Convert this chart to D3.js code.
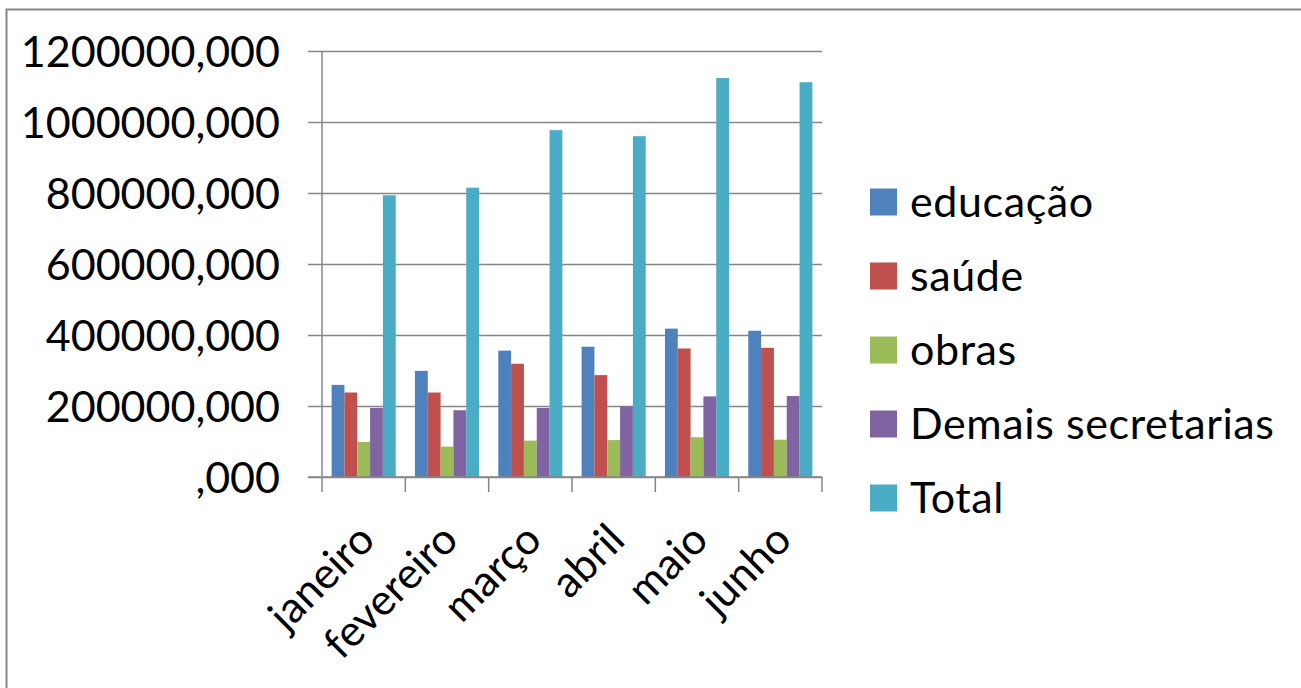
<!DOCTYPE html>
<html>
<head>
<meta charset="utf-8">
<script src="https://cdn.jsdelivr.net/npm/d3@7/dist/d3.min.js"></script>
<style>
  body { margin: 0; background: #fff; }
  svg text { font-family: Lato, "Open Sans", sans-serif; fill: #000; }
  .legend text { letter-spacing: 0.6px; }
</style>
</head>
<body>
<svg id="svg" width="1301" height="688"></svg>
<script>
const months = ["janeiro", "fevereiro", "março", "abril", "maio", "junho"]
const series = ["educação", "saúde", "obras", "Demais secretarias", "Total"]
const educacao = [259500, 299000, 356000, 367000, 418000, 412000]
const saude = [238000, 238000, 319000, 287000, 362000, 364000]
const obras = [98700, 85600, 102500, 104000, 112000, 105000]
const demais = [194600, 188000, 194600, 199000, 227000, 228000]
const total = [793600, 815000, 977000, 960000, 1124000, 1112000]
const yTicks = [0, 200000, 400000, 600000, 800000, 1000000, 1200000]
const colors = ["#4F81BD", "#C0504D", "#9BBB59", "#8064A2", "#4BACC6"]

const values = [educacao, saude, obras, demais, total]
const rows = months.map((m, i) => ({month: m, vals: series.map((s, j) => ({key: s, v: values[j][i], c: colors[j]}))}))

const svg = d3.select("#svg")
const gridColor = "#868686"
const fs = 43

// chart area border (only top and left are visible in the picture)
svg.append("path")
    .attr("d", "M6.5,700 V9.5 H1320")
    .attr("fill", "none")
    .attr("stroke", gridColor)
    .attr("stroke-width", 2)

const x0 = d3.scaleBand().domain(months).range([322, 822]).padding(0)
const x1 = d3.scaleBand().domain(series).range([0, x0.bandwidth()]).paddingInner(0).paddingOuter(0.75)
const y = d3.scaleLinear().domain([0, 1200000]).range([477, 51])

const fmt = v => v === 0 ? ",000" : v + ",000"

// gridlines + left ticks
const yAxis = svg.append("g")
    .attr("transform", "translate(322,0)")
    .call(d3.axisLeft(y).tickValues(yTicks).tickFormat(fmt).tickSizeInner(-500).tickSizeOuter(0).tickPadding(42))
yAxis.select(".domain").remove()
yAxis.selectAll(".tick line")
    .attr("x1", -14)
    .attr("stroke", gridColor)
    .attr("stroke-width", 1.5)
yAxis.selectAll(".tick text")
    .attr("font-size", fs)
    .attr("dy", "0.36em")

// bars
svg.append("g")
  .selectAll("g")
  .data(rows)
  .join("g")
    .attr("transform", d => `translate(${x0(d.month)},0)`)
  .selectAll("rect")
  .data(d => d.vals)
  .join("rect")
    .attr("x", d => x1(d.key))
    .attr("y", d => y(d.v))
    .attr("width", x1.bandwidth())
    .attr("height", d => y(0) - y(d.v))
    .attr("fill", d => d.c)

// vertical axis line
svg.append("line")
    .attr("x1", 322).attr("x2", 322)
    .attr("y1", y(1200000)).attr("y2", y(0))
    .attr("stroke", gridColor).attr("stroke-width", 1.5)

// category axis
const xTickPos = months.map(m => x0(m)).concat([822])
svg.append("line")
    .attr("x1", 308).attr("x2", 822)
    .attr("y1", y(0)).attr("y2", y(0))
    .attr("stroke", gridColor).attr("stroke-width", 1.5)
svg.append("g")
  .selectAll("line")
  .data(xTickPos)
  .join("line")
    .attr("x1", d => d).attr("x2", d => d)
    .attr("y1", y(0)).attr("y2", y(0) + 15)
    .attr("stroke", gridColor).attr("stroke-width", 1.5)

svg.append("g")
  .selectAll("text")
  .data(months)
  .join("text")
    .attr("transform", d => `translate(${x0(d) + x0.bandwidth() / 2 - 8},${y(0) + 44}) rotate(-45)`)
    .attr("text-anchor", "end")
    .attr("dy", "0.7em")
    .attr("font-size", fs)
    .text(d => d)

// legend
const legend = svg.append("g")
    .attr("class", "legend")
  .selectAll("g")
  .data(series)
  .join("g")
    .attr("transform", (d, i) => `translate(870,${202 + i * 74})`)
legend.append("rect")
    .attr("x", 0).attr("y", -13.5)
    .attr("width", 27).attr("height", 27)
    .attr("fill", (d, i) => colors[i])
legend.append("text")
    .attr("x", 40)
    .attr("dy", "0.36em")
    .attr("font-size", fs)
    .text(d => d)
</script>
</body>
</html>
